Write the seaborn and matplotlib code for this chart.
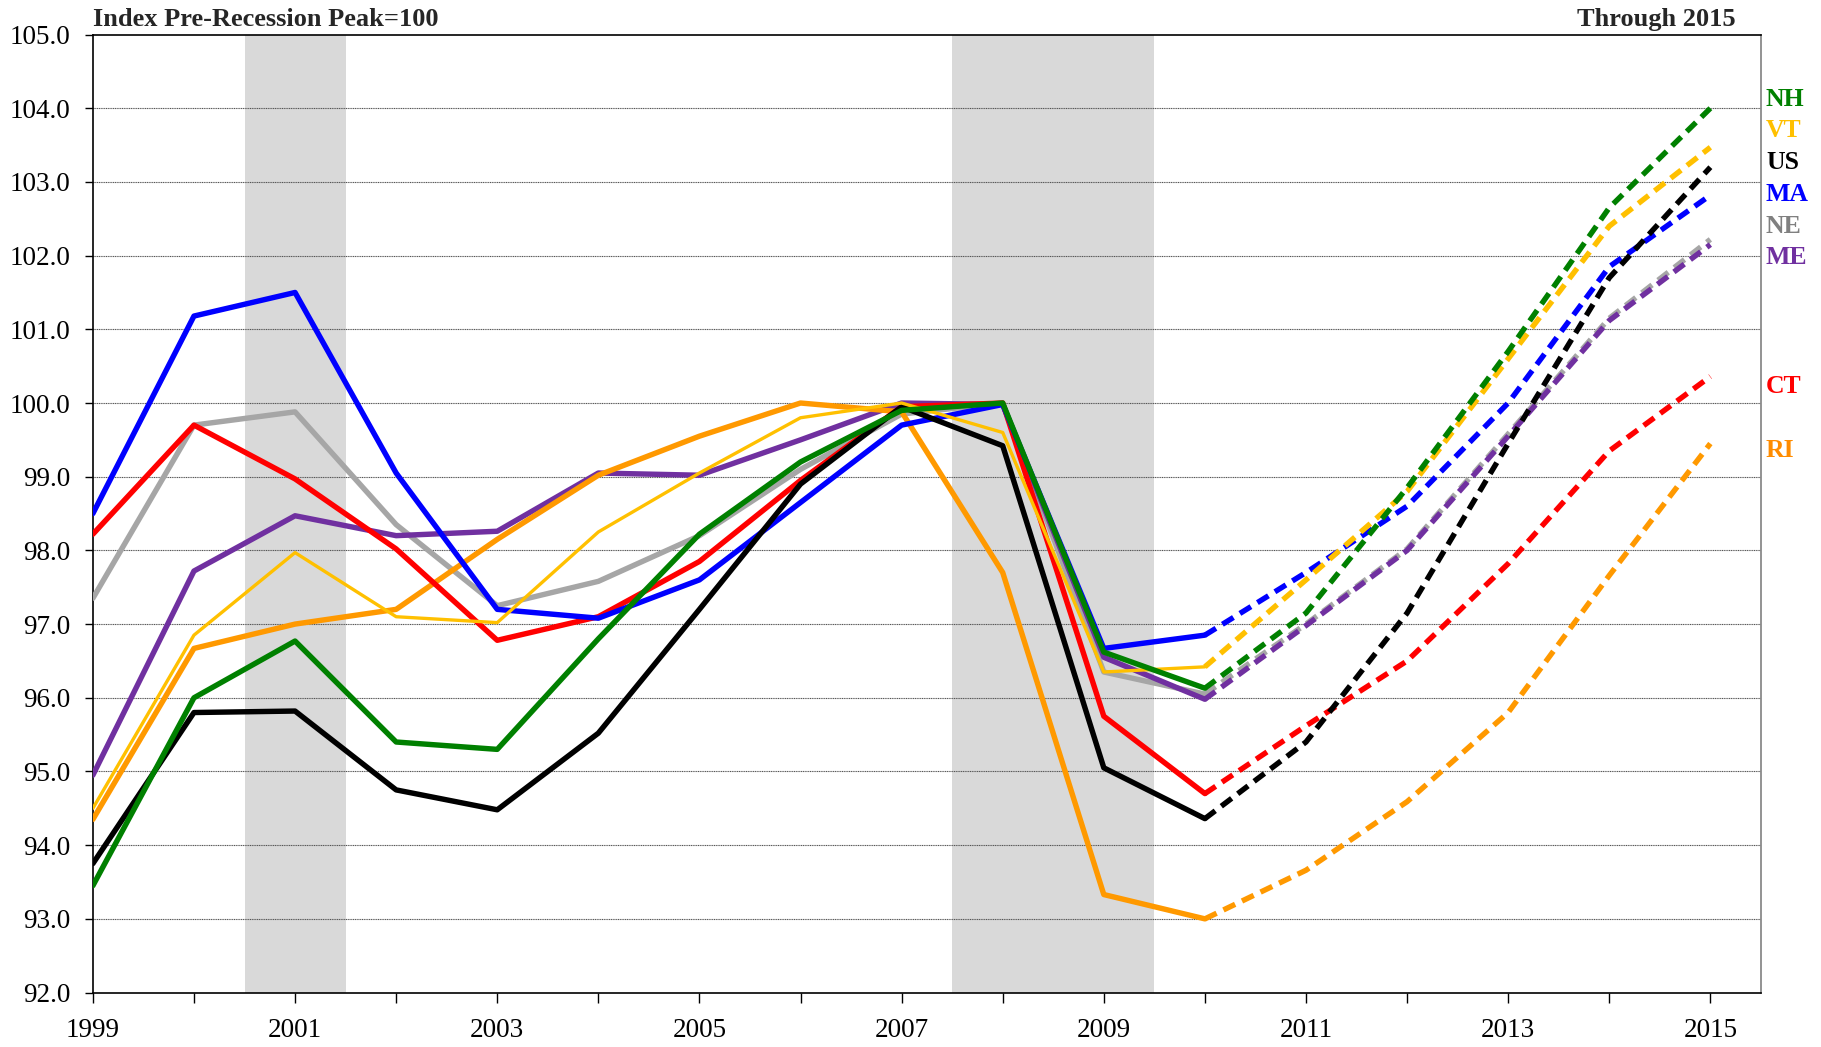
import matplotlib
matplotlib.use("Agg")
import matplotlib.pyplot as plt
import pandas as pd
import seaborn as sns

years = list(range(1999, 2016))
last_actual = 2010

states = ["NH", "VT", "US", "MA", "NE", "ME", "CT", "RI"]

nh = [93.45, 96.0, 96.77, 95.4, 95.3, 96.8, 98.22, 99.2, 99.9, 100.0, 96.62, 96.13,
      97.15, 98.85, 100.7, 102.65, 104.0]
vt = [94.5, 96.85, 97.97, 97.1, 97.02, 98.25, 99.05, 99.8, 100.0, 99.6, 96.35, 96.42,
      97.6, 98.8, 100.6, 102.4, 103.47]
us = [93.75, 95.8, 95.82, 94.75, 94.48, 95.52, 97.2, 98.9, 99.95, 99.42, 95.05, 94.36,
      95.4, 97.15, 99.45, 101.7, 103.2]
ma = [98.5, 101.18, 101.5, 99.05, 97.2, 97.08, 97.6, 98.65, 99.7, 99.98, 96.67, 96.85,
      97.7, 98.6, 100.0, 101.85, 102.82]
ne = [97.35, 99.7, 99.88, 98.35, 97.25, 97.58, 98.2, 99.1, 99.85, 100.0, 96.35, 96.05,
      97.0, 98.02, 99.58, 101.15, 102.22]
me = [94.95, 97.72, 98.47, 98.2, 98.26, 99.05, 99.02, 99.5, 100.0, 99.98, 96.55, 95.98,
      96.98, 98.0, 99.55, 101.12, 102.15]
ct = [98.22, 99.7, 98.97, 98.02, 96.78, 97.1, 97.85, 98.95, 99.95, 100.0, 95.75, 94.7,
      95.62, 96.5, 97.82, 99.35, 100.36]
ri = [94.35, 96.67, 97.0, 97.2, 98.15, 99.02, 99.55, 100.0, 99.88, 97.7, 93.33, 93.0,
      93.66, 94.59, 95.8, 97.66, 99.45]

series = {"NH": nh, "VT": vt, "US": us, "MA": ma, "NE": ne, "ME": me, "CT": ct, "RI": ri}

line_colors = {"NH": "#008000", "VT": "#FFC000", "US": "#000000", "MA": "#0000FF",
               "NE": "#A6A6A6", "ME": "#7030A0", "CT": "#FF0000", "RI": "#FF9900"}
label_colors = dict(line_colors, NE="#808080", RI="#FF8C00")
label_y = {"NH": 104.12, "VT": 103.7, "US": 103.27, "MA": 102.83, "NE": 102.4,
           "ME": 101.97, "CT": 100.23, "RI": 99.36}

recessions = [(2000.5, 2001.5), (2007.5, 2009.5)]

rows = []
for st, vals in series.items():
    for yr, v in zip(years, vals):
        if yr <= last_actual:
            rows.append({"state": st, "year": yr, "value": v, "part": "actual"})
        if yr >= last_actual:
            rows.append({"state": st, "year": yr, "value": v, "part": "forecast"})
df = pd.DataFrame(rows)

sns.set_theme(style="white")
plt.rcParams["font.family"] = ["Liberation Serif", "DejaVu Serif"]

fig, ax = plt.subplots(figsize=(18.21, 10.47), dpi=100)
fig.subplots_adjust(left=0.051, right=0.967, top=0.967, bottom=0.052)

for a, b in recessions:
    ax.axvspan(a, b, color="#D9D9D9", lw=0, zorder=0)

for yv in range(93, 105):
    ax.axhline(yv, color="#555555", lw=0.8, ls=(0, (1, 0.6)), zorder=1)

draw_order = ["NE", "ME", "RI", "CT", "MA", "US", "VT", "NH"]
for st in draw_order:
    lw = 2.4 if st == "VT" else 3.9
    sub = df[df["state"] == st]
    sns.lineplot(data=sub[sub["part"] == "actual"], x="year", y="value", ax=ax,
                 color=line_colors[st], lw=lw, zorder=3)
    sns.lineplot(data=sub[sub["part"] == "forecast"], x="year", y="value", ax=ax,
                 color=line_colors[st], lw=3.9, ls=(0, (2.4, 1.4)), zorder=3)

for st in states:
    ax.text(1.003, label_y[st], st, transform=ax.get_yaxis_transform(),
            color=label_colors[st], fontsize=18.5, fontweight="bold", va="center", ha="left")

ax.set_xlim(1999, 2015.5)
ax.set_ylim(92, 105)
ax.set_xticks(years)
ax.set_xticklabels([str(y) if y % 2 == 1 else "" for y in years])
ax.set_yticks(range(92, 106))
ax.set_yticklabels([f"{v:.1f}" for v in range(92, 106)])
ax.tick_params(axis="both", labelsize=19.5, direction="out", width=1,
               colors="#000000", left=True, bottom=True)
ax.tick_params(axis="y", length=6, pad=10)
ax.tick_params(axis="x", length=7, pad=11)
ax.set_xlabel("")
ax.set_ylabel("")

for side in ["left", "bottom", "top"]:
    ax.spines[side].set_color("#000000")
    ax.spines[side].set_linewidth(1.2)
ax.spines["right"].set_color("#808080")
ax.spines["right"].set_linewidth(1.2)

ax.text(0.0, 1.004, "Index Pre-Recession Peak=100", transform=ax.transAxes,
        fontsize=19, fontweight="bold", ha="left", va="bottom")
ax.text(0.985, 1.004, "Through 2015", transform=ax.transAxes,
        fontsize=19, fontweight="bold", ha="right", va="bottom")

fig.savefig("out.png", dpi=100)
